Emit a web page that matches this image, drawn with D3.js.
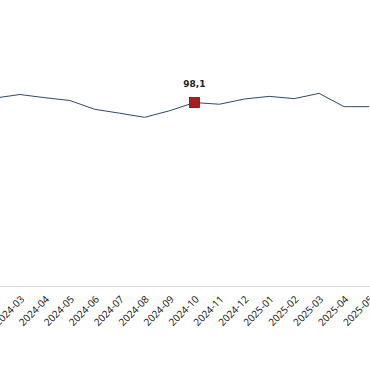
<!DOCTYPE html>
<html><head><meta charset="utf-8">
<script src="https://cdn.jsdelivr.net/npm/d3@7"></script>
<style>html,body{margin:0;padding:0;background:#fff;overflow:hidden}</style>
</head><body><svg id="c" width="370" height="380"></svg>
<script>
const months = ["2024-02","2024-03","2024-04","2024-05","2024-06","2024-07","2024-08","2024-09","2024-10","2024-11","2024-12","2025-01","2025-02","2025-03","2025-04","2025-05"];
const values = [100.5,102.4,100.7,99.2,94.5,92.4,90.2,93.7,98.1,97.2,100.0,101.4,100.2,103.0,95.9,95.9];
const highlightMonth = "2024-10";
const highlightLabel = "98,1";

const svg = d3.select("#c");
const x = d3.scalePoint().domain(months).range([-5, 369]);
const y = d3.scaleLinear().domain([0, 150]).range([286, 5.5]);

svg.append("line").attr("x1",0).attr("x2",370).attr("y1",286.5).attr("y2",286.5)
  .attr("stroke","#dcdcdc").attr("stroke-width",1);

const line = d3.line().x((d,i)=>x(months[i])).y(d=>y(d));
svg.append("path").datum(values).attr("d",line).attr("fill","none")
  .attr("stroke","#2e4a68").attr("stroke-width",1);

const hi = months.indexOf(highlightMonth);
svg.append("rect").attr("x",x(highlightMonth)-5).attr("y",y(values[hi])-5)
  .attr("width",10).attr("height",10).attr("fill","#a51d1d").attr("stroke","#6e1010").attr("stroke-width",0.8);
svg.append("text").attr("x",x(highlightMonth)).attr("y",y(values[hi])-16)
  .attr("text-anchor","middle").attr("font-family","DejaVu Sans, sans-serif")
  .attr("font-size",9).attr("font-weight","bold").attr("fill","#222").text(highlightLabel);

svg.append("g").selectAll("text").data(months).join("text")
  .attr("transform",d=>`translate(${x(d)+5},${300}) rotate(-45)`)
  .attr("text-anchor","end").attr("font-family","'Open Sans', sans-serif")
  .attr("font-size",10).attr("fill","#111").text(d=>d);
</script></body></html>
